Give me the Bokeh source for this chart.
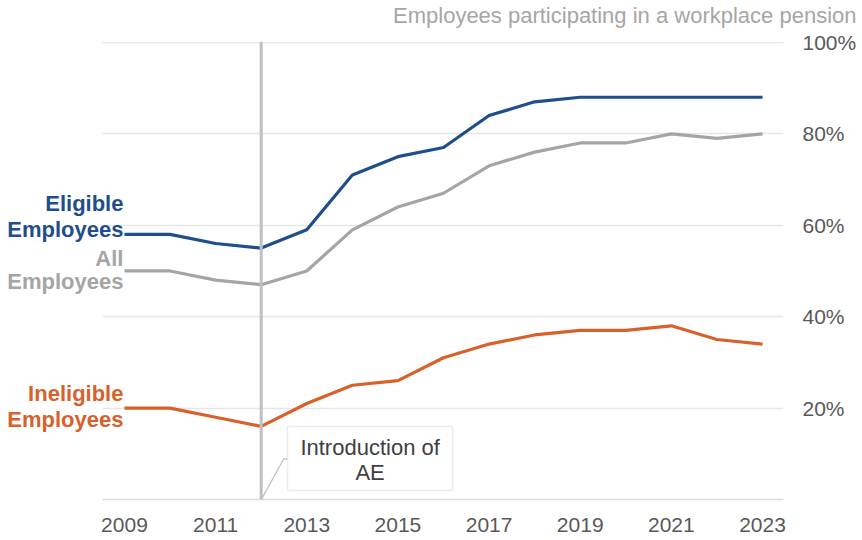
from bokeh.plotting import figure
from bokeh.models import Range1d, FixedTicker, Span, BoxAnnotation, Label, Title
from bokeh.embed import file_html
from bokeh.resources import INLINE

# ---- data ----
years = list(range(2009, 2024))
eligible = [58, 58, 56, 55, 59, 71, 75, 77, 84, 87, 88, 88, 88, 88, 88]
all_employees = [50, 50, 48, 47, 50, 59, 64, 67, 73, 76, 78, 78, 80, 79, 80]
ineligible = [20, 20, 18, 16, 21, 25, 26, 31, 34, 36, 37, 37, 38, 35, 34]
x_ticks = [2009, 2011, 2013, 2015, 2017, 2019, 2021, 2023]
y_ticks = [20, 40, 60, 80, 100]
y_tick_labels = ["20%", "40%", "60%", "80%", "100%"]
ae_year = 2012
title_text = "Employees participating in a workplace pension"
annotation_lines = ["Introduction of", "AE"]

# ---- styles ----
BLUE = "#1F4E8C"
GREY = "#A5A5A5"
ORANGE = "#D8612B"
FONT = "Liberation Sans"
TICK_COLOR = "#595959"

X0, X1 = 2006.28, 2023.46      # frame extent (frame starts at the left edge)
XB0 = 2008.52                   # where axis line / gridlines start

p = figure(width=860, height=538, output_backend="svg", toolbar_location=None,
           x_range=Range1d(X0, X1), y_range=Range1d(0, 100.2),
           y_axis_location="right",
           min_border_left=0, min_border_right=77, min_border_top=40, min_border_bottom=39)
p.outline_line_color = None
p.background_fill_color = "white"
p.border_fill_color = "white"

# spacer between title and plot area (closest to the frame), then the title
p.add_layout(Title(text=" ", standoff=11, text_font_size="1px"), "above")
p.add_layout(Title(text=title_text, align="right", offset=-73, standoff=0,
                   text_font=FONT, text_font_size="22px", text_font_style="normal",
                   text_color="#A6A6A6"), "above")

# axes
p.xaxis.ticker = FixedTicker(ticks=x_ticks)
p.xaxis.bounds = (XB0, X1)
p.xaxis.major_tick_line_color = None
p.xaxis.minor_tick_line_color = None
p.xaxis.axis_line_color = "#D9D9D9"
p.xaxis.axis_line_width = 1.5
p.xaxis.major_label_text_font = FONT
p.xaxis.major_label_text_font_size = "21px"
p.xaxis.major_label_text_color = TICK_COLOR
p.xaxis.major_label_standoff = 12

p.yaxis.ticker = FixedTicker(ticks=y_ticks)
p.yaxis.major_label_overrides = {t: l for t, l in zip(y_ticks, y_tick_labels)}
p.yaxis.major_tick_line_color = None
p.yaxis.minor_tick_line_color = None
p.yaxis.axis_line_color = None
p.yaxis.major_label_text_font = FONT
p.yaxis.major_label_text_font_size = "21px"
p.yaxis.major_label_text_color = TICK_COLOR
p.yaxis.major_label_standoff = 13

p.xgrid.grid_line_color = None
p.ygrid.grid_line_color = "#E6E6E6"
p.ygrid.grid_line_width = 1.5
p.ygrid.cross_bounds = (XB0, X1)

# AE vertical line
p.add_layout(Span(location=ae_year, dimension="height", line_color="#BFBFC4", line_width=3))

# lines
p.line(years, ineligible, line_color=ORANGE, line_width=3.2, line_join="round")
p.line(years, all_employees, line_color=GREY, line_width=3.2, line_join="round")
p.line(years, eligible, line_color=BLUE, line_width=3.2, line_join="round")

# series labels
def series_label(text, y, color):
    p.add_layout(Label(x=years[0], y=y, text=text, x_offset=-1, text_align="right",
                       text_baseline="middle", text_font=FONT, text_font_size="22px",
                       text_font_style="bold", text_color=color))

series_label("Eligible", 64.7, BLUE)
series_label("Employees", 59.1, BLUE)
series_label("All", 52.8, GREY)
series_label("Employees", 47.6, GREY)
series_label("Ineligible", 23.1, ORANGE)
series_label("Employees", 17.4, ORANGE)

# annotation box
p.add_layout(BoxAnnotation(left=2012.577, right=2016.198, bottom=1.97, top=15.96,
                           fill_color="white", fill_alpha=1.0,
                           line_color="#BFBFBF", line_width=1.5))
p.line([2012.02, 2012.496, 2012.577], [0.3, 8.9, 8.9], line_color="#BFBFBF", line_width=1.2)
p.add_layout(Label(x=2014.39, y=11.43, text=annotation_lines[0], text_align="center",
                   text_baseline="middle", text_font=FONT, text_font_size="22px",
                   text_color="#404040"))
p.add_layout(Label(x=2014.39, y=5.97, text=annotation_lines[1], text_align="center",
                   text_baseline="middle", text_font=FONT, text_font_size="22px",
                   text_color="#404040"))

open("out.html", "w").write(file_html(p, INLINE))
